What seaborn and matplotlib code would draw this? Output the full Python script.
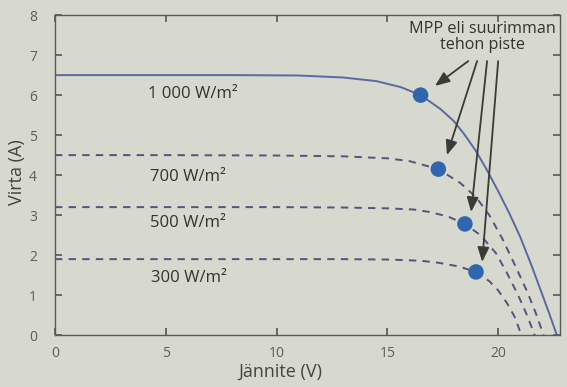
import numpy as np
import pandas as pd
import seaborn as sns
import matplotlib.pyplot as plt

# Data -------------------------------
v_1000 = [0, 4, 8, 11, 13, 14.5, 15.6, 16.5, 17.4, 18.0, 18.5, 19.0, 19.5, 20.0, 20.5, 21.0, 21.5, 22.0, 22.3, 22.65]
i_1000 = [6.5, 6.5, 6.5, 6.49, 6.44, 6.35, 6.2, 6.0, 5.65, 5.35, 5.0, 4.6, 4.12, 3.6, 3.05, 2.45, 1.75, 1.0, 0.55, 0]

v_700 = [0, 5, 10, 13, 15, 16, 17.3, 18.3, 19.0, 19.6, 20.2, 20.8, 21.3, 21.7, 22.05]
i_700 = [4.5, 4.5, 4.49, 4.47, 4.42, 4.35, 4.15, 3.8, 3.45, 3.0, 2.4, 1.7, 1.1, 0.55, 0]

v_500 = [0, 5, 10, 13, 15, 16.2, 17.0, 17.8, 18.5, 19.2, 19.9, 20.4, 20.9, 21.3, 21.65]
i_500 = [3.2, 3.2, 3.2, 3.19, 3.17, 3.14, 3.07, 2.95, 2.78, 2.5, 2.05, 1.55, 1.0, 0.5, 0]

v_300 = [0, 5, 10, 13, 15, 16.5, 17.3, 18.2, 19.0, 19.6, 20.0, 20.4, 20.75, 21.05]
i_300 = [1.9, 1.9, 1.9, 1.9, 1.89, 1.86, 1.81, 1.72, 1.58, 1.35, 1.12, 0.8, 0.45, 0]

irradiance = ["1000", "700", "500", "300"]
curve_labels = ["1 000 W/m²", "700 W/m²", "500 W/m²", "300 W/m²"]
label_v = [6.2, 6.0, 6.0, 6.05]
label_i = [6.02, 3.95, 2.81, 1.43]

mpp_v = [16.5, 17.3, 18.5, 19.0]
mpp_i = [6.0, 4.15, 2.78, 1.58]

# Build long table ----------
frames = []
for name, v, i in zip(irradiance, [v_1000, v_700, v_500, v_300], [i_1000, i_700, i_500, i_300]):
    frames.append(pd.DataFrame({"V": v, "I": i, "G": name}))
df = pd.concat(frames, ignore_index=True)
mpp = pd.DataFrame({"V": mpp_v, "I": mpp_i, "G": irradiance})

bg = "#d7d8ce"
ink = "#4a4a45"
sns.set_theme(style="ticks")
plt.rcParams["font.family"] = ["Open Sans", "DejaVu Sans"]

fig = plt.figure(figsize=(5.67, 3.87), dpi=100, facecolor=bg)
ax = fig.add_axes([0.097, 0.134, 0.891, 0.827], facecolor=bg)

palette = {"1000": "#5a68a3", "700": "#50557f", "500": "#50557f", "300": "#50557f"}
dashes = {"1000": "", "700": (3.8, 3.2), "500": (3.8, 3.2), "300": (3.8, 3.2)}
sns.lineplot(data=df, x="V", y="I", hue="G", style="G", palette=palette, dashes=dashes,
             sort=False, estimator=None, linewidth=1.4, legend=False, ax=ax)
sns.scatterplot(data=mpp, x="V", y="I", color="#2f66ae", s=125, edgecolor="none",
                legend=False, ax=ax, zorder=5)

for lab, x, y in zip(curve_labels, label_v, label_i):
    ax.text(x, y, lab, ha="center", va="center", fontsize=12, color="#333330")

# MPP callout with arrows
ax.text(19.3, 7.45, "MPP eli suurimman\ntehon piste", ha="center", va="center",
        fontsize=11.6, color="#333330", linespacing=1.0)
starts_v = [18.65, 19.05, 19.5, 20.0]
tip_dv = [0.65, 0.39, 0.28, 0.28]
tip_di = [0.23, 0.35, 0.30, 0.25]
for sv, mv, mi, dv, di in zip(starts_v, mpp_v, mpp_i, tip_dv, tip_di):
    ax.annotate("", xy=(mv + dv, mi + di), xytext=(sv, 6.85),
                arrowprops=dict(arrowstyle="-|>,head_length=0.55,head_width=0.22",
                                color="#3a3a36", lw=1.3, mutation_scale=16,
                                shrinkA=0, shrinkB=0))

ax.set_xlim(0, 22.8)
ax.set_ylim(0, 8)
ax.set_xticks([0, 5, 10, 15, 20])
ax.set_yticks(range(0, 9))
ax.tick_params(direction="in", length=5, width=1.1, colors=ink, labelsize=10,
               top=True, right=True, labelcolor="#5e5e58", pad=8)
ax.tick_params(axis="y", pad=13)
ax.set_xlabel("Jännite (V)", fontsize=13, color="#444440")
ax.set_ylabel("Virta (A)", fontsize=13, color="#444440")
ax.xaxis.set_label_coords(0.446, -0.085)
ax.yaxis.set_label_coords(-0.058, 0.51)
for s in ax.spines.values():
    s.set_color("#5a5a55")
    s.set_linewidth(1.0)

fig.savefig("out.png", dpi=100, facecolor=bg)
